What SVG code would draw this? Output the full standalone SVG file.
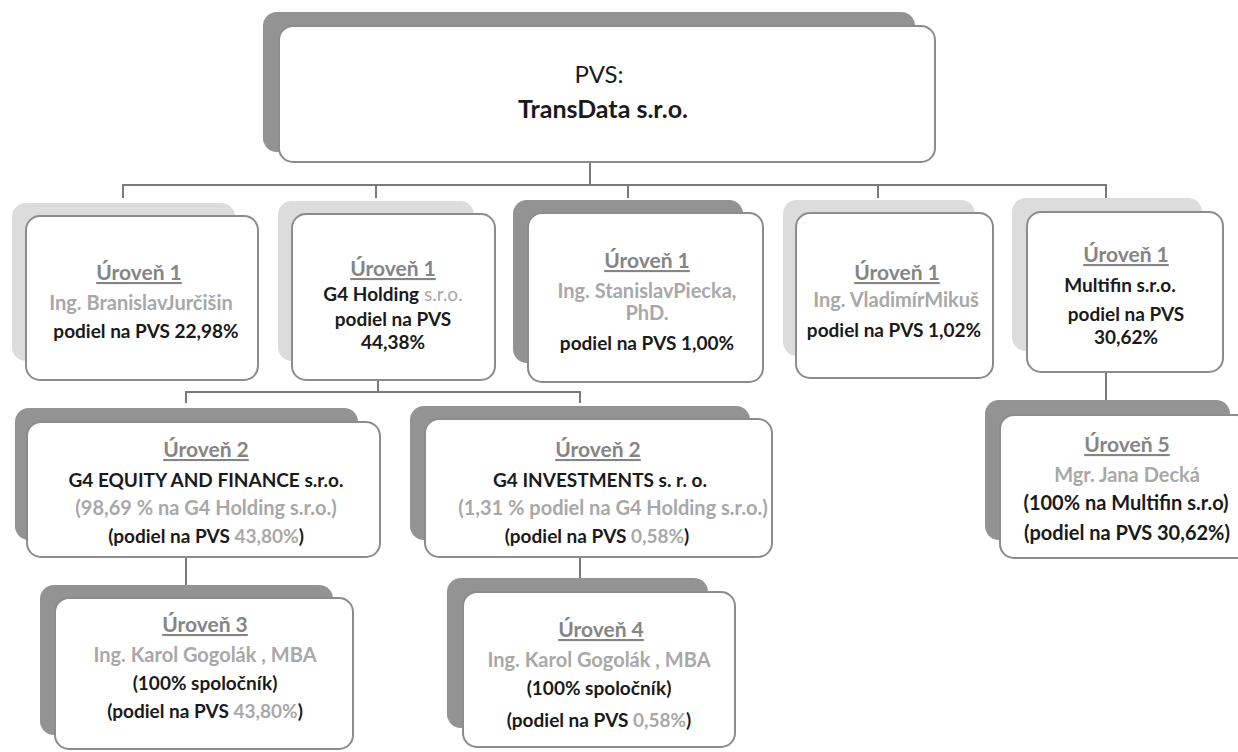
<svg xmlns="http://www.w3.org/2000/svg" width="1238" height="752" viewBox="0 0 1238 752">
<style>
text{font-family:Lato,"Liberation Sans",sans-serif;text-anchor:middle;font-weight:bold;font-size:19px;fill:#1a1a1a}
.lvl{fill:#858585;text-decoration:underline;font-size:21px}
.nm{fill:#a8a8a8;font-size:20px}
.g{fill:#a8a8a8}
.box{fill:#fff;stroke:#8c8c8c;stroke-width:2}
.shl{fill:#dcdcdc}
.shd{fill:#939393}
.con{fill:none;stroke:#7a7a7a;stroke-width:2}
</style>
<rect width="1238" height="752" fill="#fff"/>
<g id="connectors">
<path class="con" d="M590 162V185M123 198V185H1106V198M376 185V198M628 185V198M878 185V198"/>
<path class="con" d="M378 380V392M186 403V392H580V403"/>
<path class="con" d="M186 557V585"/>
<path class="con" d="M580 557V580"/>
<path class="con" d="M1106 372V400"/>
</g>
<g id="top">
<rect class="shd" x="263" y="12" width="652" height="140" rx="14"/>
<rect class="box" x="279" y="26" width="656" height="136" rx="14"/>
<text x="599" y="83" style="font-weight:normal;font-size:24px">PVS:</text>
<text x="603" y="118" style="font-size:25px">TransData s.r.o.</text>
</g>
<g id="n1a">
<rect class="shl" x="12" y="203" width="223" height="158" rx="14"/>
<rect class="box" x="26" y="216" width="232" height="164" rx="14"/>
<text class="lvl" x="139" y="280">Úroveň 1</text>
<text class="nm" x="141" y="310">Ing. BranislavJurčišin</text>
<text x="146" y="338">podiel na PVS 22,98%</text>
</g>
<g id="n1b">
<rect class="shl" x="278" y="201" width="196" height="160" rx="14"/>
<rect class="box" x="292" y="214" width="203" height="166" rx="14"/>
<text class="lvl" x="393" y="276">Úroveň 1</text>
<text x="393" y="301">G4 Holding<tspan class="g" style="font-weight:normal"> s.r.o.</tspan></text>
<text x="393" y="326">podiel na PVS</text>
<text x="393" y="349">44,38%</text>
</g>
<g id="n1c">
<rect class="shd" x="513" y="200" width="230" height="163" rx="14"/>
<rect class="box" x="528" y="213" width="235" height="169" rx="14"/>
<text class="lvl" x="647" y="268">Úroveň 1</text>
<text class="nm" x="647" y="298">Ing. StanislavPiecka,</text>
<text class="nm" x="647" y="320">PhD.</text>
<text x="647" y="350">podiel na PVS 1,00%</text>
</g>
<g id="n1d">
<rect class="shl" x="783" y="200" width="192" height="156" rx="14"/>
<rect class="box" x="796" y="213" width="197" height="165" rx="14"/>
<text class="lvl" x="897" y="280">Úroveň 1</text>
<text class="nm" x="896" y="307">Ing. VladimírMikuš</text>
<text x="894" y="337">podiel na PVS 1,02%</text>
</g>
<g id="n1e">
<rect class="shl" x="1012" y="198" width="190" height="153" rx="14"/>
<rect class="box" x="1027" y="212" width="196" height="160" rx="14"/>
<text class="lvl" x="1126" y="262">Úroveň 1</text>
<text x="1120" y="292">Multifin s.r.o.</text>
<text x="1126" y="321">podiel na PVS</text>
<text x="1126" y="344">30,62%</text>
</g>
<g id="n2a">
<rect class="shd" x="15" y="408" width="343" height="132" rx="14"/>
<rect class="box" x="27" y="422" width="353" height="135" rx="14"/>
<text class="lvl" x="206" y="457">Úroveň 2</text>
<text x="206" y="487">G4 EQUITY AND FINANCE s.r.o.</text>
<text class="nm" x="206" y="515">(98,69 % na G4 Holding s.r.o.)</text>
<text x="206" y="543">(podiel na PVS <tspan class="g">43,80%</tspan>)</text>
</g>
<g id="n2b">
<rect class="shd" x="410" y="406" width="340" height="134" rx="14"/>
<rect class="box" x="425" y="419" width="347" height="138" rx="14"/>
<text class="lvl" x="598" y="457">Úroveň 2</text>
<text x="600" y="487">G4 INVESTMENTS s. r. o.</text>
<text class="nm" x="613" y="515">(1,31 % podiel na G4 Holding s.r.o.)</text>
<text x="597" y="543">(podiel na PVS <tspan class="g">0,58%</tspan>)</text>
</g>
<g id="n3">
<rect class="shd" x="40" y="585" width="293" height="150" rx="14"/>
<rect class="box" x="55" y="598" width="298" height="151" rx="14"/>
<text class="lvl" x="205" y="632">Úroveň 3</text>
<text class="nm" x="205" y="662">Ing. Karol Gogolák , MBA</text>
<text x="205" y="690">(100% spoločník)</text>
<text x="205" y="718">(podiel na PVS <tspan class="g">43,80%</tspan>)</text>
</g>
<g id="n4">
<rect class="shd" x="447" y="578" width="261" height="150" rx="14"/>
<rect class="box" x="463" y="592" width="272" height="155" rx="14"/>
<text class="lvl" x="601" y="637">Úroveň 4</text>
<text class="nm" x="599" y="667">Ing. Karol Gogolák , MBA</text>
<text x="599" y="695">(100% spoločník)</text>
<text x="599" y="727">(podiel na PVS <tspan class="g">0,58%</tspan>)</text>
</g>
<g id="n5">
<rect class="shd" x="985" y="400" width="245" height="140" rx="14"/>
<rect class="box" x="1000" y="415" width="250" height="143" rx="14"/>
<text class="lvl" x="1127" y="452">Úroveň 5</text>
<text class="nm" x="1127" y="482">Mgr. Jana Decká</text>
<text x="1126" y="510" style="font-size:20px">(100% na Multifin s.r.o)</text>
<text x="1127" y="540" style="font-size:20px">(podiel na PVS 30,62%)</text>
</g>
</svg>
